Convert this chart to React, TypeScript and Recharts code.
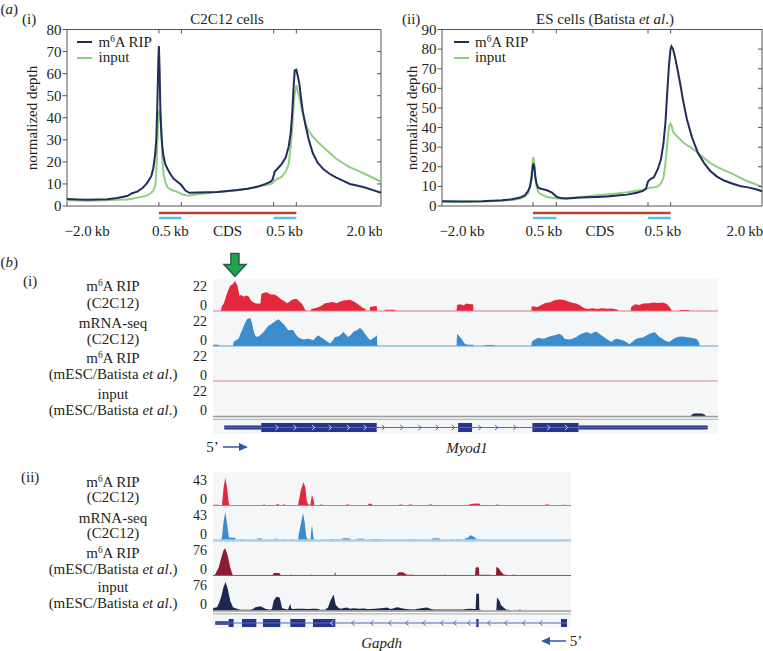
import {
  LineChart,
  Line,
  XAxis,
  YAxis,
  Legend,
  ReferenceLine,
  ReferenceArea,
  ReferenceDot,
  AreaChart,
  Area,
  ComposedChart,
  Scatter,
} from "recharts";

const FONT = "'Liberation Serif', 'Times New Roman', serif";
const INK = "#231f20";
const NAVY = "#222d5c";
const GREEN = "#8fcf80";
const AXIS = "#555";
const GENE_BLUE = "#26358b";
const INTRON_BLUE = "#5468bd";

// ---------- (a) metagene profiles ----------
const c2c12Bins = [0, 10, 20, 30, 40, 50, 60, 65, 70, 75, 80, 84, 86, 88, 89, 90, 91, 91.6, 92.3, 93, 94, 95, 96, 98, 100, 103, 106, 110, 114, 118, 122, 130, 140, 150, 160, 170, 180, 190, 198, 203, 205, 207, 210, 214, 218, 221, 223, 224.5, 226, 227, 228.6, 230, 231.6, 233, 235, 238, 241, 245, 250, 256, 262, 268, 275, 282, 290, 297, 305, 313];
const c2c12Rip = [3.2, 3.0, 2.8, 2.9, 3.1, 3.6, 4.5, 5.8, 6.5, 8.0, 10.5, 13.5, 17, 24, 30, 45, 65, 72.5, 62, 45, 33, 27, 23, 19, 17, 14.5, 12.5, 11, 9.5, 7, 6, 6.1, 6.2, 6.4, 6.8, 7.2, 7.8, 8.8, 10, 11, 12, 15.5, 17, 19, 22, 27, 33, 42, 55, 61.5, 61.8, 59, 55.5, 50, 43, 36, 30, 24, 19.5, 16.5, 14.5, 13, 11.5, 10, 9.2, 8.4, 7.2, 6];
const c2c12Input = [2.6, 2.5, 2.4, 2.5, 2.6, 2.8, 3.0, 3.3, 3.8, 4.2, 4.8, 6.0, 7.0, 9.5, 14.7, 28, 38, 42, 43.7, 40, 36, 22, 15, 11, 8.6, 7.5, 7, 6.4, 5.5, 4.9, 4.8, 5.3, 5.8, 6.4, 6.7, 7.1, 7.8, 8.6, 9.5, 10, 10.5, 11.5, 12.3, 13.2, 15.5, 19, 27, 35, 46, 51, 54.8, 52, 49.6, 46, 42, 37, 34, 31.5, 29, 26.5, 24, 21.5, 19.5, 17.5, 16, 14.5, 12.8, 11];
const c2c12Marks = [91.6, 114, 206, 228.6]; // start codon, +0.5 kb, stop -0.5 kb, stop codon
const c2c12LabelPos = [20, 103, 160, 217, 297];

const escBins = [0, 20, 40, 60, 70, 78, 83, 86, 88, 89.5, 90.5, 91.3, 92.3, 93.3, 94.5, 96, 98, 101, 105, 110, 115, 120, 125, 135, 145, 155, 165, 175, 185, 195, 201, 204, 206, 208, 212, 216, 219, 221.5, 223.5, 225.5, 227, 228.5, 229.5, 231, 233, 235, 238, 241, 245, 250, 256, 262, 268, 275, 282, 290, 298, 306, 314, 320];
const escRip = [2.4, 2.3, 2.4, 2.9, 3.4, 4.3, 5.5, 7.5, 10, 14, 19, 21.7, 20, 15, 11.5, 9.5, 8.9, 8.5, 8, 6.8, 4.6, 3.9, 3.8, 4.2, 4.4, 4.6, 4.9, 5.3, 5.8, 6.8, 7.7, 8.9, 12.5, 13.5, 14.8, 19, 24, 32, 43, 60, 72, 80, 81.4, 80, 76, 71, 63, 54, 44, 35, 27, 22, 18, 15, 13, 11.5, 10.2, 9.5, 8.5, 7.5];
const escInput = [2.2, 2.2, 2.3, 2.7, 3.1, 3.8, 4.8, 6.5, 9.5, 15, 22, 25, 22, 15, 10, 7.5, 6.3, 5.5, 4.6, 4.2, 3.8, 3.8, 4.0, 4.4, 4.9, 5.5, 5.9, 6.4, 7.0, 7.8, 8.3, 8.6, 9, 9.3, 9.6, 10, 11.5, 14.5, 21.7, 33, 40.4, 42, 41, 38, 36.5, 35.5, 34, 32.5, 31, 29.5, 27, 24.5, 22, 20, 18.3, 16.5, 14.5, 12.5, 11, 9.7];
const escMarks = [91, 114.3, 206, 228.6];
const escLabelPos = [20, 102, 158, 221, 303];

const xLabels = ["\u22122.0\u2009kb", "0.5\u2009kb", "CDS", "0.5\u2009kb", "2.0\u2009kb"];

// ---------- (b)(i) Myod1 coverage tracks [position, depth] ----------
const myodRipC2c12 = [[0, 0], [8, 0], [8.5, 3], [11, 6], [14, 13], [17, 18.5], [20, 20], [22, 22.3], [24.6, 18.5], [26.6, 11], [28, 12], [30.6, 10.5], [33, 11.5], [35.6, 10.9], [37, 9], [39, 7], [42.3, 5.8], [45.6, 5.3], [47.5, 5.5], [48.5, 12.9], [51, 13.5], [54, 13.9], [56, 13], [59, 12.1], [61, 12.5], [64, 11.4], [66, 10], [69, 8.3], [72, 7], [74, 5.8], [77, 7], [79, 8.3], [82, 9], [84, 8.9], [86, 7.5], [89, 5.3], [91, 3], [92.3, 0.8], [94, 0], [98, 0], [98.5, 1.5], [103, 2.2], [107.3, 3.3], [110, 4.5], [112.3, 5.8], [116, 6.2], [119, 6.6], [122, 6.3], [124, 5.8], [127, 6.8], [130.6, 7.8], [134, 8], [137.3, 8.3], [140, 7.5], [144, 5.8], [147, 4], [150.6, 2], [152.5, 2], [153, 0], [157, 0], [157.3, 3], [160, 3.3], [164, 3.8], [164.5, 0], [172, 0], [172.3, 1], [182.3, 1], [182.6, 0], [244, 0], [244.6, 4.5], [248, 5], [251, 4], [254, 5.5], [258, 5], [260.6, 5], [261, 0], [319, 0], [319.3, 3.5], [325, 3], [329, 4.5], [333, 6], [338, 6.5], [342, 8], [347, 8.5], [352, 8.2], [356, 7], [360, 6.2], [364, 5.6], [368, 4], [372, 2], [376, 1.5], [380, 2], [385, 1.4], [390, 2], [395, 1.6], [400, 1.8], [405.6, 1], [406, 0], [418.5, 0], [419, 3], [423, 5], [427, 4.5], [431, 5.6], [437, 5.8], [441, 6.3], [446, 6], [451, 6.4], [455, 5], [458, 2.5], [460, 0], [467, 0], [467.3, 0.8], [477, 0.8], [477.3, 0], [506, 0]];
const myodMrnaC2c12 = [[0, 0], [0.3, 1], [5.6, 1], [6, 0], [20, 0], [20.6, 3], [23, 4.3], [25.6, 5.4], [27, 8], [29, 11.4], [31, 15], [34, 19.6], [37.3, 20.8], [39, 17], [40.6, 11.4], [42, 8], [44, 6.6], [47.3, 7.8], [50.6, 10.2], [53, 12.5], [55.6, 14.9], [58, 16], [60.6, 17.3], [63, 18.5], [65.6, 19.6], [68, 18], [70.6, 16.1], [73, 14], [75.6, 11.4], [78, 12], [80.6, 11.4], [83, 8.5], [85.6, 6.2], [88, 5.5], [90.6, 4.7], [93, 5.2], [95.6, 5.4], [98, 4.8], [100.6, 4.3], [103, 6.5], [105.6, 7.8], [108, 6.5], [110.6, 5.4], [114, 3.5], [117.3, 1.9], [120, 4], [122.3, 6.6], [125, 7], [127.3, 7.8], [130.6, 10.2], [133, 8.5], [135.6, 6.6], [138, 8], [140.6, 10.2], [144, 11.5], [147.3, 13.2], [150, 11.5], [152.3, 9], [155, 6.5], [157.3, 4.3], [160, 5.5], [162.3, 6.6], [164.3, 7.8], [164.6, 0], [244, 0], [244.6, 9], [247, 7], [249, 5.4], [252, 1.9], [255, 1], [260.6, 1], [261, 0], [272, 0], [272.3, 0.7], [282, 0.7], [282.3, 0], [319, 0], [319.3, 3], [322, 4.5], [325.6, 6], [329, 5.5], [332, 5.4], [335, 6.5], [337.3, 7], [340, 7.5], [342.3, 7.8], [345, 8.5], [347.3, 9], [350, 7.5], [352.3, 5.4], [355, 5], [357.3, 4.7], [361, 5.5], [364, 6.6], [367, 8], [369, 9], [372, 9.5], [374, 10.2], [377, 9.5], [379, 9], [382, 10], [384, 10.6], [387, 9], [389, 7.8], [392, 6.5], [394, 5.4], [397, 4], [399, 3], [402, 4.5], [404, 5.4], [407, 5], [410.6, 4.3], [414, 3], [417.3, 1.2], [420, 3], [424, 5.4], [427, 5.8], [430.6, 6.2], [434, 7.5], [437.3, 9], [440, 9.5], [442.3, 10.2], [445, 8.5], [447.3, 6.6], [450, 5.5], [452.3, 4.3], [455, 3.5], [457.3, 3], [460, 4.5], [464, 6.2], [467, 6.8], [470.6, 7], [474, 6.6], [477.3, 6.2], [480, 5.8], [484, 5.4], [486, 4], [487.3, 1.9], [487.6, 0], [506, 0]];
const myodRipEsc = [[0, 0], [506, 0]];
const myodInputEsc = [[0, 0], [479, 0], [479.5, 1], [482, 1.8], [490, 1.8], [493, 1], [493.5, 0], [506, 0]];
// exons: [start, end, coding]
const myodExons = [[11.3, 48.3, 0], [48.3, 164, 1], [245.6, 259.6, 1], [320, 366.3, 1], [366.3, 495.6, 0]];
const myodChevrons = [64, 82, 100.6, 117.3, 135.6, 152.3, 170.6, 189, 207.3, 224.6, 240.7, 267.3, 284, 302.3, 336.3, 354];
const myodPeak = [22, 22.3];

// ---------- (b)(ii) Gapdh coverage tracks ----------
const gapdhRipC2c12 = [[0, 0], [0.6, 1], [5.6, 1], [6, 0], [8.5, 0], [9, 1], [10.6, 27], [12.3, 42], [14, 27], [15.6, 5.4], [16.6, 0], [50, 0], [50.3, 1.5], [52, 1.5], [52.3, 0], [63, 0], [63.3, 2], [66, 2], [66.3, 0], [70, 0], [70.3, 1.5], [72, 1.5], [72.3, 0], [85, 0], [85.6, 5.4], [88, 24], [90.6, 35], [92.3, 27], [94, 5.4], [95.6, 1], [97.5, 1], [98, 8], [99, 16], [100.6, 8], [101.5, 0], [107, 0], [107.3, 1.5], [109, 1.5], [109.3, 0], [133, 0], [133.3, 1.5], [136, 1.5], [136.3, 0], [155, 0], [155.5, 2.5], [159, 2.5], [159.3, 0], [186, 0], [186.3, 1.5], [189, 1.5], [189.3, 0], [196, 0], [196.3, 1.5], [199, 1.5], [199.3, 0], [216, 0], [216.3, 1.5], [219, 1.5], [219.3, 0], [256, 0], [256.3, 2], [260, 2.5], [264, 3], [267, 2.5], [267.3, 0], [283, 0], [283.3, 1.5], [285, 1.5], [285.3, 0], [332, 0], [332.3, 1.5], [336, 1.5], [336.3, 0], [349, 0], [349.3, 1], [352, 1], [352.3, 0], [358, 0]];
const gapdhMrnaC2c12 = [[0, 0], [8, 0], [9, 5.6], [10.6, 28.7], [12.3, 43], [14, 26], [16, 4], [19, 4], [22.3, 4], [22.6, 0], [26.5, 0], [27, 2], [30, 2], [30.3, 0], [43.5, 0], [44, 3], [49, 3], [49.3, 0], [61, 0], [61.3, 2.5], [64, 2.5], [64.3, 0], [69.5, 0], [70, 1.5], [72, 1.5], [72.3, 0], [76.5, 0], [77, 1], [81, 2], [81.3, 0], [85, 0], [85.6, 8], [88, 26], [90, 41.5], [91.6, 28.7], [93.3, 5.6], [95, 1], [97.5, 1], [98, 12], [99, 23.5], [100.3, 5.6], [101.5, 0], [113, 0], [113.3, 1.5], [116, 1.5], [118, 2], [121, 2], [121.3, 0], [123, 0], [123.3, 1.5], [126, 1.5], [126.3, 0], [128.5, 0], [129, 3], [132, 3.5], [137, 3], [137.3, 0], [143.5, 0], [144, 2.5], [151, 2.5], [151.3, 0], [156.5, 0], [157, 2], [167, 2], [167.3, 0], [170, 0], [170.3, 1], [173, 1], [173.3, 0], [176, 0], [176.3, 1.5], [179, 1.5], [179.3, 0], [183.5, 0], [184, 1], [191, 1], [191.3, 0], [196.5, 0], [197, 1.5], [204, 1.5], [204.3, 0], [210, 0], [210.3, 1], [213, 1], [213.3, 0], [218.5, 0], [219, 2.5], [222, 3.5], [227, 3], [227.3, 0], [236.5, 0], [237, 1.5], [241, 1.5], [241.3, 0], [243.5, 0], [244, 2], [247, 2], [247.3, 0], [251.5, 0], [252, 3], [255, 4], [257.3, 8], [259, 7], [262, 4], [264, 2], [267, 1], [271, 1], [271.3, 0], [349.5, 0], [350, 1], [353, 1], [353.3, 0], [358, 0]];
const gapdhRipEsc = [[0, 0], [1.5, 0], [2.3, 4], [5.6, 21], [8, 45], [10.6, 68], [12.3, 73], [14.6, 54], [17.3, 21], [19, 6.6], [20, 0], [59.5, 0], [60, 4], [61, 6.6], [66, 6.6], [67.3, 4], [67.6, 0], [77, 0], [77.3, 2], [79, 2], [79.3, 0], [97, 0], [97.3, 2], [99, 2], [99.3, 0], [121.5, 0], [122, 11], [122.6, 4], [123, 0], [127, 0], [127.3, 1], [130, 1], [130.3, 0], [183.5, 0], [184, 4], [186, 8.5], [190, 8.5], [192.3, 5], [194, 2], [201, 2], [201.3, 0], [230, 0], [230.3, 2], [233, 2], [233.3, 0], [262, 0], [262.6, 20], [264, 23], [266, 21], [266.3, 2], [270.6, 2], [277.3, 2], [277.6, 0], [283, 0], [283.3, 23], [285.6, 20], [288, 10], [290.6, 3], [293, 2], [296, 0], [299, 0], [299.3, 2], [302.3, 2], [302.6, 0], [358, 0]];
const gapdhInputEsc = [[0, 0], [0.3, 6.6], [4, 8.5], [6, 20], [8, 35], [10.6, 63.6], [12.6, 76], [14.6, 59], [17.3, 25.6], [20, 8.5], [24, 4.7], [27.3, 2], [32.3, 2], [37.3, 2], [40, 4], [42.3, 8.5], [45, 10], [47.3, 11.4], [50, 8], [52.3, 4.7], [57.3, 2], [59, 5], [60.6, 25.6], [63.3, 37], [66.6, 35], [68, 20], [69, 6.6], [72, 4], [75, 3], [77.3, 18], [78, 8], [79, 4], [84, 4.5], [90, 5], [95, 4], [100, 5], [104, 4.5], [107.3, 2], [112, 2], [115, 8], [117.3, 25.6], [120.6, 42.8], [122.6, 16], [125, 8], [127.3, 5], [130, 6], [134, 8], [137, 5], [141, 6], [146, 5], [151, 5.5], [154, 4], [157.3, 4], [162, 5], [167.3, 6], [171, 7], [174, 8], [177.3, 4], [181, 6], [184, 9], [188, 7], [191, 5], [196, 3.5], [201, 3], [205, 5], [210, 7], [214, 8], [218, 4], [221, 3], [226, 3], [232, 3], [238, 3], [244, 3], [247, 2.5], [250, 3], [253, 4], [257, 4.5], [261, 4], [262.6, 4], [263.3, 45], [266, 45], [266.3, 3], [267.3, 2], [270, 0], [283.3, 0], [284, 35], [286.6, 25.6], [288, 15], [290.6, 8], [293, 3], [295.6, 2], [297, 0], [305.3, 0], [305.6, 2], [308, 2], [308.3, 0], [358, 0]];
const gapdhExons = [[2.3, 15.6, 0], [15.6, 20.6, 1], [29, 43.3, 1], [50, 67.3, 1], [77.3, 92.3, 1], [100, 122.3, 1], [263.3, 265.6, 1], [348, 354, 1]];
const gapdhChevrons = [119, 140, 159, 177, 194, 211, 229, 242, 256, 276, 293, 311, 328];

// ---------- helpers ----------
const SUP = { fontSize: "0.62em", verticalAlign: "0.5em", lineHeight: 0 };

const Txt = ({ x, y, anchor = "middle", children, style = {} }: any) => {
  const tx = anchor === "middle" ? "-50%" : anchor === "end" ? "-100%" : "0";
  return (
    <div
      style={{
        position: "absolute",
        left: x,
        top: y,
        transform: `translate(${tx}, -50%)`,
        whiteSpace: "nowrap",
        fontFamily: FONT,
        fontSize: 15,
        lineHeight: 1,
        color: INK,
        ...style,
      }}
    >
      {children}
    </div>
  );
};

const PLOT_TOP = 29.5;
const PLOT_H = 176.5;

const ProfileLegend = () => (
  <div style={{ fontFamily: FONT, fontSize: 15, color: INK, lineHeight: "15.5px" }}>
    <div style={{ display: "flex", alignItems: "center" }}>
      <span style={{ display: "inline-block", width: 15, height: 2, background: NAVY, marginRight: 6.5 }} />
      <span>
        m<sup style={SUP}>6</sup>A RIP
      </span>
    </div>
    <div style={{ display: "flex", alignItems: "center" }}>
      <span style={{ display: "inline-block", width: 15, height: 2, background: GREEN, marginRight: 6.5 }} />
      <span>input</span>
    </div>
  </div>
);

function Profile(p: any) {
  const data = p.bins.map((b: number, i: number) => ({ bin: b, rip: p.rip[i], input: p.input[i] }));
  const plotW = p.width - p.axisW - 1;
  const yTicks: number[] = [];
  for (let v = 0; v <= p.yMax; v += 10) yTicks.push(v);

  const xTick = (t: any) => {
    const { x, y, payload } = t;
    const k = p.labelPos.indexOf(payload.value);
    if (k < 0) {
      return (
        <g stroke={AXIS} strokeWidth={1}>
          <line x1={x} x2={x} y1={y} y2={y - 4} />
          <line x1={x} x2={x} y1={y - PLOT_H} y2={y - PLOT_H + 4} />
        </g>
      );
    }
    return (
      <text x={x} y={y + 29.5} textAnchor="middle" fill={INK} fontSize={15} fontFamily={FONT}>
        {xLabels[k]}
      </text>
    );
  };

  const yTick = (t: any) => {
    const { x, y, payload } = t;
    const inner = payload.value > 0 && payload.value < p.yMax;
    return (
      <g>
        <line x1={x - 4.5} x2={x} y1={y} y2={y} stroke={AXIS} strokeWidth={1} />
        {inner && <line x1={x + plotW - 4} x2={x + plotW} y1={y} y2={y} stroke={AXIS} strokeWidth={1} />}
        <text x={x - 5.5} y={y + 5} textAnchor="end" fill={INK} fontSize={15} fontFamily={FONT}>
          {payload.value}
        </text>
      </g>
    );
  };

  const cdsY = -p.yMax * 0.04;
  const utrY = -p.yMax * 0.068;

  return (
    <div style={{ position: "absolute", left: p.left, top: 0 }}>
      <LineChart width={p.width} height={250} data={data} margin={{ top: PLOT_TOP, right: 1, bottom: 14, left: 0 }}>
        <XAxis
          type="number"
          dataKey="bin"
          domain={[0, p.xMax]}
          ticks={[...p.labelPos, ...p.marks]}
          interval={0}
          height={30}
          tickSize={0}
          tickMargin={0}
          tickLine={false}
          axisLine={false}
          tick={xTick}
        />
        <YAxis
          domain={[0, p.yMax]}
          ticks={yTicks}
          interval={0}
          width={p.axisW}
          tickSize={0}
          tickMargin={0}
          tickLine={false}
          axisLine={false}
          tick={yTick}
        />
        <ReferenceArea x1={0} x2={p.xMax} y1={0} y2={p.yMax} fill="none" fillOpacity={0} stroke={AXIS} strokeWidth={1} />
        <Line type="linear" dataKey="input" stroke={GREEN} strokeWidth={2} dot={false} isAnimationActive={false} />
        <Line type="linear" dataKey="rip" stroke={NAVY} strokeWidth={2} dot={false} isAnimationActive={false} />
        <ReferenceLine
          segment={[{ x: p.marks[0], y: cdsY }, { x: p.marks[3], y: cdsY }]}
          stroke="#c2402f"
          strokeWidth={2.5}
          ifOverflow="visible"
        />
        <ReferenceLine
          segment={[{ x: p.marks[0], y: utrY }, { x: p.marks[1], y: utrY }]}
          stroke="#4fc3ef"
          strokeWidth={2.5}
          ifOverflow="visible"
        />
        <ReferenceLine
          segment={[{ x: p.marks[2], y: utrY }, { x: p.marks[3], y: utrY }]}
          stroke="#4fc3ef"
          strokeWidth={2.5}
          ifOverflow="visible"
        />
        <Legend
          layout="vertical"
          align="center"
          verticalAlign="middle"
          wrapperStyle={{ left: p.legendLeft, top: 34.5, width: "auto", height: "auto" }}
          content={() => <ProfileLegend />}
        />
      </LineChart>
    </div>
  );
}

const doubleRule = (s: any) => (
  <g>
    <line x1={s.x1} x2={s.x2} y1={s.y1 + 0.5} y2={s.y1 + 0.5} stroke="#9b9b9b" strokeWidth={1.6} />
    <line x1={s.x1} x2={s.x2} y1={s.y1 + 3.4} y2={s.y1 + 3.4} stroke="#b9b9b9" strokeWidth={1.4} />
  </g>
);

const DownArrow = (s: any) => {
  const { cx, cy } = s;
  const tip = cy - 4.5;
  const pts = [
    [cx - 4, tip - 23],
    [cx + 4, tip - 23],
    [cx + 4, tip - 12],
    [cx + 11, tip - 12],
    [cx, tip],
    [cx - 11, tip - 12],
    [cx - 4, tip - 12],
  ]
    .map((q) => q.join(","))
    .join(" ");
  return <polygon points={pts} fill="#1fa64a" stroke="#2c5b4a" strokeWidth={1.5} strokeLinejoin="miter" />;
};

function Track(t: any) {
  const padTop = t.padTop ?? 4;
  const data = t.pts.map(([p, v]: number[]) => ({ p, v }));
  const tick = (k: any) => {
    const isTop = k.payload.value === t.yMax;
    return (
      <text
        x={k.x - 6}
        y={isTop ? k.y + t.topDy : k.y - t.zeroUp}
        textAnchor="end"
        fill={INK}
        fontSize={14}
        fontFamily={FONT}
      >
        {k.payload.value}
      </text>
    );
  };
  return (
    <div style={{ position: "absolute", left: t.left - 40, top: t.top - padTop }}>
      <AreaChart
        width={t.plotW + 40}
        height={t.h + padTop + 6}
        data={data}
        margin={{ top: padTop, right: 0, bottom: 6, left: 0 }}
      >
        <XAxis type="number" dataKey="p" domain={[0, t.span]} hide />
        <YAxis
          domain={[0, t.yMax]}
          ticks={[0, t.yMax]}
          interval={0}
          width={40}
          axisLine={false}
          tickLine={false}
          tickSize={0}
          tickMargin={0}
          tick={tick}
        />
        <Area type="linear" dataKey="v" stroke="none" fill={t.color} fillOpacity={1} isAnimationActive={false} />
        <ReferenceLine
          y={0}
          stroke={t.base}
          strokeWidth={t.baseW ?? 1}
          shape={t.double ? doubleRule : undefined}
        />
        {t.arrowAt && (
          <ReferenceDot x={t.arrowAt[0]} y={t.arrowAt[1]} r={0} shape={DownArrow} ifOverflow="visible" />
        )}
      </AreaChart>
    </div>
  );
}

function Gene(g: any) {
  const marks = g.chevrons.map((p: number) => ({ p, y: 0 }));
  const first = g.exons[0][0];
  const last = g.exons[g.exons.length - 1][1];
  const inCds = (p: number) => g.exons.some((e: number[]) => e[2] === 1 && p > e[0] && p < e[1]);
  const chevron = (s: any) => {
    const { cx, cy, payload } = s;
    const d = g.dir;
    const col = inCds(payload.p) ? "#c9d0f2" : INTRON_BLUE;
    return (
      <polyline
        points={`${cx - 1.5 * d},${cy - 2.5} ${cx + 1.5 * d},${cy} ${cx - 1.5 * d},${cy + 2.5}`}
        fill="none"
        stroke={col}
        strokeWidth={1}
      />
    );
  };
  return (
    <div style={{ position: "absolute", left: g.left, top: g.top - 2 }}>
      <ComposedChart width={g.plotW} height={g.h + 4} data={marks} margin={{ top: 2, right: 0, bottom: 2, left: 0 }}>
        <XAxis type="number" dataKey="p" domain={[0, g.span]} hide />
        <YAxis type="number" domain={[-1, 1]} hide />
        <ReferenceLine
          segment={[{ x: first, y: 0 }, { x: last, y: 0 }]}
          stroke={INTRON_BLUE}
          strokeWidth={1}
        />
        {g.exons.map((e: number[], i: number) => (
          <ReferenceArea
            key={i}
            x1={e[0]}
            x2={e[1]}
            y1={e[2] ? -1 : -0.45}
            y2={e[2] ? 1 : 0.45}
            fill={GENE_BLUE}
            fillOpacity={1}
            stroke="none"
            ifOverflow="visible"
          />
        ))}
        <Scatter dataKey="y" shape={chevron} isAnimationActive={false} />
      </ComposedChart>
    </div>
  );
}

const TrackLabel = ({ y1, y2, l1, l2 }: any) => (
  <>
    <Txt x={113} y={y1}>{l1}</Txt>
    <Txt x={113} y={y2}>{l2}</Txt>
  </>
);

const ripLabel = (
  <span>
    m<sup style={SUP}>6</sup>A RIP
  </span>
);
const mescLabel = (
  <span>
    (mESC/Batista <i>et al</i>.)
  </span>
);

const RED = "#e4283c";
const BLUE = "#3a8ccd";
const DARK_RED = "#8c1c30";
const DARK_NAVY = "#1c2752";

export default function App() {
  const myod = { span: 506, left: 213, plotW: 505, h: 30, yMax: 22, topDy: 10, zeroUp: 1 };
  const gapdh = { span: 358, left: 213, plotW: 358, h: 28.5, topDy: 7.5, zeroUp: 1.5 };
  return (
    <div
      style={{
        position: "absolute",
        left: 0,
        top: 0,
        width: 763,
        height: 651,
        background: "#fff",
        overflow: "hidden",
        fontFamily: FONT,
      }}
    >
      {/* (a) */}
      <Txt x={0.5} y={9} anchor="start">
        (<i>a</i>)
      </Txt>
      <Txt x={22} y={18.5} anchor="start">(i)</Txt>
      <Txt x={227} y={18.5}>C2C12 cells</Txt>
      <Txt x={402} y={18.5} anchor="start">(ii)</Txt>
      <Txt x={605} y={18.5}>
        ES cells (Batista <i>et al</i>.)
      </Txt>
      <Txt x={32} y={118} style={{ transform: "translate(-50%, -50%) rotate(-90deg)" }}>
        normalized depth
      </Txt>
      <Txt x={412} y={118} style={{ transform: "translate(-50%, -50%) rotate(-90deg)" }}>
        normalized depth
      </Txt>

      <Profile
        left={0}
        width={382}
        axisW={67}
        xMax={313}
        yMax={80}
        bins={c2c12Bins}
        rip={c2c12Rip}
        input={c2c12Input}
        marks={c2c12Marks}
        labelPos={c2c12LabelPos}
        legendLeft={77}
      />
      <Profile
        left={380}
        width={383}
        axisW={62}
        xMax={320}
        yMax={90}
        bins={escBins}
        rip={escRip}
        input={escInput}
        marks={escMarks}
        labelPos={escLabelPos}
        legendLeft={73.5}
      />

      {/* (b) */}
      <Txt x={0.5} y={262} anchor="start">
        (<i>b</i>)
      </Txt>
      <Txt x={23} y={281} anchor="start">(i)</Txt>
      <Txt x={21} y={477} anchor="start">(ii)</Txt>

      <div style={{ position: "absolute", left: 213, top: 279, width: 505, height: 155, background: "#f5f6f7" }} />
      <div style={{ position: "absolute", left: 213, top: 472, width: 358, height: 156, background: "#f5f6f7" }} />

      <TrackLabel y1={285.5} y2={302.5} l1={ripLabel} l2="(C2C12)" />
      <TrackLabel y1={322.5} y2={339} l1="mRNA-seq" l2="(C2C12)" />
      <TrackLabel y1={357.5} y2={374} l1={ripLabel} l2={mescLabel} />
      <TrackLabel y1={393.5} y2={410} l1="input" l2={mescLabel} />

      <Track {...myod} pts={myodRipC2c12} color={RED} base="#e87583" top={281} padTop={30} arrowAt={myodPeak} />
      <Track {...myod} pts={myodMrnaC2c12} color={BLUE} base="#5da3dc" top={316} />
      <Track {...myod} pts={myodRipEsc} color={DARK_RED} base="#e3818c" top={351} />
      <Track {...myod} pts={myodInputEsc} color={DARK_NAVY} base="#9b9b9b" double top={386} />
      <Gene exons={myodExons} chevrons={myodChevrons} span={506} dir={1} left={213} top={423} plotW={505} h={9} />

      <Txt x={212.5} y={447}>5’</Txt>
      <svg style={{ position: "absolute", left: 222, top: 441 }} width={28} height={12}>
        <line x1={1} y1={6} x2={18} y2={6} stroke="#2f58a8" strokeWidth={1.5} />
        <polygon points="26,6 17,2 17,10" fill="#2f58a8" />
      </svg>
      <Txt x={467} y={447.5}>
        <i>Myod1</i>
      </Txt>

      <TrackLabel y1={481.7} y2={497} l1={ripLabel} l2="(C2C12)" />
      <TrackLabel y1={517.7} y2={533} l1="mRNA-seq" l2="(C2C12)" />
      <TrackLabel y1={552.7} y2={569} l1={ripLabel} l2={mescLabel} />
      <TrackLabel y1={586.5} y2={603} l1="input" l2={mescLabel} />

      <Track {...gapdh} pts={gapdhRipC2c12} yMax={43} color={RED} base="#e66a78" top={476.5} />
      <Track {...gapdh} pts={gapdhMrnaC2c12} yMax={43} color={BLUE} base="#a8d0ee" baseW={2.5} top={511.7} />
      <Track {...gapdh} pts={gapdhRipEsc} yMax={76} color={DARK_RED} base="#b54b58" top={546.9} />
      <Track {...gapdh} pts={gapdhInputEsc} yMax={76} color={DARK_NAVY} base="#9b9b9b" double top={582.1} />
      <Gene exons={gapdhExons} chevrons={gapdhChevrons} span={358} dir={-1} left={213} top={618.5} plotW={358} h={8} />

      <Txt x={381.7} y={643}>
        <i>Gapdh</i>
      </Txt>
      <svg style={{ position: "absolute", left: 540, top: 635 }} width={28} height={12}>
        <polygon points="1,6 10,2 10,10" fill="#2f58a8" />
        <line x1={9} y1={6} x2={26} y2={6} stroke="#2f58a8" strokeWidth={1.5} />
      </svg>
      <Txt x={576} y={641}>5’</Txt>
    </div>
  );
}
